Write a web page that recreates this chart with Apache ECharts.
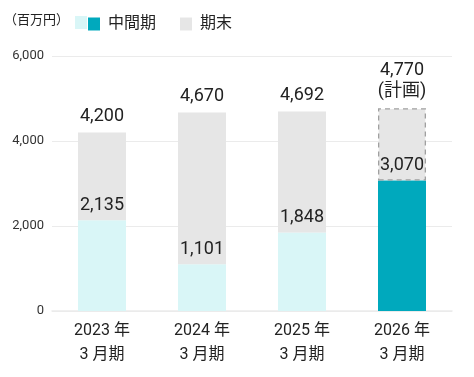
<!DOCTYPE html>
<html><head><meta charset="utf-8">
<script src="https://cdn.jsdelivr.net/npm/echarts@6/dist/echarts.min.js"></script>
<style>html,body{margin:0;padding:0;background:#fff}#c{width:474px;height:377px}</style>
</head><body><div id="c"></div>
<script>
var categories = ['2023 年\n3 月期', '2024 年\n3 月期', '2025 年\n3 月期', '2026 年\n3 月期'];
var interim = [2135, 1101, 1848, 3070];
var totals = [4200, 4670, 4692, 4770];
var planned = [false, false, false, true];
var yTicks = [0, 2000, 4000, 6000];

var FONT = "Roboto, 'Noto Sans CJK JP', sans-serif";
function fmt(v){ return v.toLocaleString('en-US'); }
var remainder = totals.map(function(t,i){ return t - interim[i]; });

var chart = echarts.init(document.getElementById('c'));
chart.setOption({
  animation: false,
  textStyle: { fontFamily: FONT },
  grid: { left: 52, right: 22, top: 56, bottom: 66 },
  legend: {
    left: 88, top: 16, padding: 0, itemWidth: 12, itemHeight: 13, itemGap: 24, icon: 'rect',
    textStyle: { fontSize: 16, color: '#222', fontFamily: FONT, padding: [0, 0, 0, 3] },
    data: [{ name: '中間期', itemStyle: { color: '#00a9bd' } }, { name: '期末', itemStyle: { color: '#e6e6e6' } }],
    selectedMode: false
  },
  graphic: [
    { type: 'text', left: 4, top: 14, style: { text: '（百万円）', fontSize: 13, fill: '#222', fontFamily: FONT } },
    { type: 'rect', left: 75, top: 16, shape: { width: 12, height: 13 }, style: { fill: '#d9f6f7' } }
  ],
  xAxis: {
    type: 'category', data: categories,
    axisLine: { lineStyle: { color: '#ebebeb', width: 1.5 } },
    axisTick: { show: false },
    axisLabel: { fontSize: 16, color: '#222', lineHeight: 24, margin: 8, fontFamily: FONT }
  },
  yAxis: {
    type: 'value', min: yTicks[0], max: yTicks[yTicks.length-1], interval: 2000,
    axisLine: { show: false }, axisTick: { show: false },
    splitLine: { lineStyle: { color: '#ebebeb' } },
    axisLabel: { fontSize: 13, color: '#333', margin: 8, formatter: function(v){ return fmt(v); }, fontFamily: FONT }
  },
  series: [
    {
      name: '中間期', type: 'bar', stack: 's', barWidth: 48,
      data: interim.map(function(v,i){ return { value: v, itemStyle: { color: planned[i] ? '#00a9bd' : '#d9f6f7' } }; }),
      label: { show: true, position: 'top', distance: 6, fontSize: 18, color: '#222', fontFamily: FONT,
        formatter: function(p){ return fmt(p.value); } }
    },
    {
      name: '期末', type: 'bar', stack: 's', barWidth: 48,
      data: remainder.map(function(v,i){
        return { value: v, itemStyle: planned[i]
          ? { color: '#e6e6e6', borderColor: '#a0a0a0', borderType: [5,4], borderWidth: 1.3 }
          : { color: '#e6e6e6' } };
      }),
      itemStyle: { color: '#e6e6e6' },
      label: { show: true, position: 'top', distance: 6, fontSize: 18, color: '#222', lineHeight: 21, fontFamily: FONT,
        formatter: function(p){ var i = p.dataIndex; return fmt(totals[i]) + (planned[i] ? '\n(計画)' : ''); } }
    }
  ]
});
</script></body></html>
